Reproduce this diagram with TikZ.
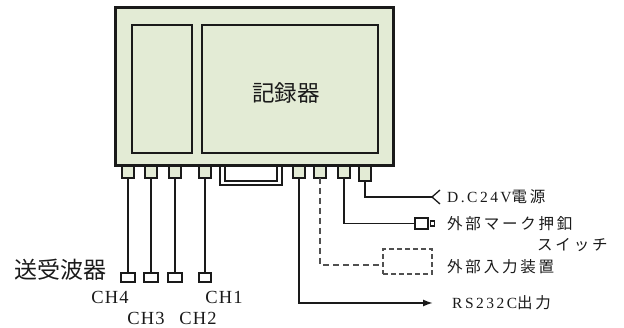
\documentclass[tikz,border=0pt]{standalone}
\usepackage{fontspec}
\setmainfont{Liberation Serif}
\newfontfamily\jp{Noto Sans CJK JP}
\newfontfamily\jpsp[LetterSpace=18]{Noto Sans CJK JP}
\newfontfamily\latsp[LetterSpace=16]{Liberation Serif}
\newfontfamily\chsp[LetterSpace=6]{Liberation Serif}
\usetikzlibrary{arrows.meta}
\definecolor{panel}{HTML}{E3EBD5}
\definecolor{ink}{HTML}{1A1A1A}
\definecolor{dink}{HTML}{505050}
\tikzset{
  conn/.style={draw=ink, line width=2pt, fill=panel, minimum width=12pt, minimum height=12pt, inner sep=0pt, outer sep=0pt},
  probe/.style={draw=ink, line width=2pt, fill=white, minimum width=14pt, minimum height=9pt, inner sep=0pt, outer sep=0pt},
  wire/.style={draw=ink, line width=1.7pt},
  dwire/.style={draw=dink, line width=1.3pt, dash pattern=on 6pt off 4pt},
  lbl/.style={anchor=west, inner sep=0pt, text=ink},
  chl/.style={inner sep=0pt, text=ink, font=\chsp\fontsize{18.5}{18.5}\selectfont},
}
\begin{document}
\begin{tikzpicture}[x=1pt,y=-1pt]
\useasboundingbox (0,0) rectangle (624,328);
% connectors (drawn first so the box covers their tops)
\node[conn] (c1) at (128,172) {};
\node[conn] (c2) at (151,172) {};
\node[conn] (c3) at (175,172) {};
\node[conn] (c4) at (205,172) {};
\node[conn] (c5) at (299,172) {};
\node[conn] (c6) at (320,172) {};
\node[conn] (c7) at (344,172) {};
\node[conn, minimum height=15pt] (c8) at (365,174) {};
% D-sub connector
\draw[draw=ink, line width=1.6pt, fill=white] (220,166) -- (220,185) -- (282,185) -- (282,166);
\draw[draw=ink, line width=1.6pt] (225,166) -- (225,181) -- (277,181) -- (277,166);
% main box
\node[draw=ink, line width=3.2pt, fill=panel, minimum width=278pt, minimum height=158pt, inner sep=0pt] (box) at (254.5,86.5) {};
\node[draw=ink, line width=1.4pt, minimum width=60pt, minimum height=128pt, inner sep=0pt] (left) at (162,89) {};
\node[draw=ink, line width=1.4pt, minimum width=176pt, minimum height=128pt, inner sep=0pt] (right) at (290,89) {};
\node[text=ink, font=\jp\fontsize{22.5}{22.5}\selectfont] (rec) at (286,93) {記録器};
% probes
\node[probe] (p1) at (128,277.5) {};
\node[probe] (p2) at (151,277.5) {};
\node[probe] (p3) at (175,277.5) {};
\node[probe, minimum width=12pt] (p4) at (205,277.5) {};
\draw[wire] (c1.south) -- (p1.north);
\draw[wire] (c2.south) -- (p2.north);
\draw[wire] (c3.south) -- (p3.north);
\draw[wire] (c4.south) -- (p4.north);
\node[text=ink, inner sep=0pt, font=\jp\fontsize{23}{23}\selectfont] (sou) at (60,270) {送受波器};
\node[chl] (ch4) at (110,297) {CH4};
\node[chl] (ch1) at (224,297) {CH1};
\node[chl] (ch3) at (146,318) {CH3};
\node[chl] (ch2) at (198,318) {CH2};
% right side
\coordinate (dcend) at (432,197);
\draw[wire] (c8.south) |- (dcend);
\draw[draw=ink, line width=1.3pt] (dcend) -- ++(8,-7) (dcend) -- ++(8,7);
\node[lbl, font=\latsp\fontsize{15.5}{15.5}\selectfont] (dc) at (447,197) {D.C24V{\jpsp 電源}};
\node[draw=ink, line width=1.7pt, fill=white, minimum width=13pt, minimum height=11pt, inner sep=0pt] (plug) at (421.5,223.5) {};
\node[draw=ink, line width=1.3pt, fill=white, minimum width=4pt, minimum height=5pt, inner sep=0pt, anchor=west] (plugtip) at ([xshift=1pt]plug.east) {};
\draw[wire] (c7.south) |- (plug.west);
\node[lbl, font=\jpsp\fontsize{15.5}{15.5}\selectfont] (mark) at (447,224) {外部マーク押釦};
\node[lbl, font=\jpsp\fontsize{15.5}{15.5}\selectfont] (sw) at (537,245) {スイッチ};
\node[draw=dink, line width=1.3pt, dash pattern=on 5pt off 3pt, minimum width=49pt, minimum height=25pt, inner sep=0pt] (ext) at (407.5,261.5) {};
\draw[dwire] (c6.south) |- ([yshift=-3.5pt]ext.west);
\node[lbl, font=\jpsp\fontsize{15.5}{15.5}\selectfont] (extl) at (447,267) {外部入力装置};
\coordinate (rsend) at (433,303);
\draw[wire, -{Latex[length=10pt,width=7pt]}] (c5.south) |- (rsend);
\node[lbl, font=\latsp\fontsize{15.5}{15.5}\selectfont] (rs) at (452,303) {RS232C{\jpsp 出力}};
\end{tikzpicture}
\end{document}
